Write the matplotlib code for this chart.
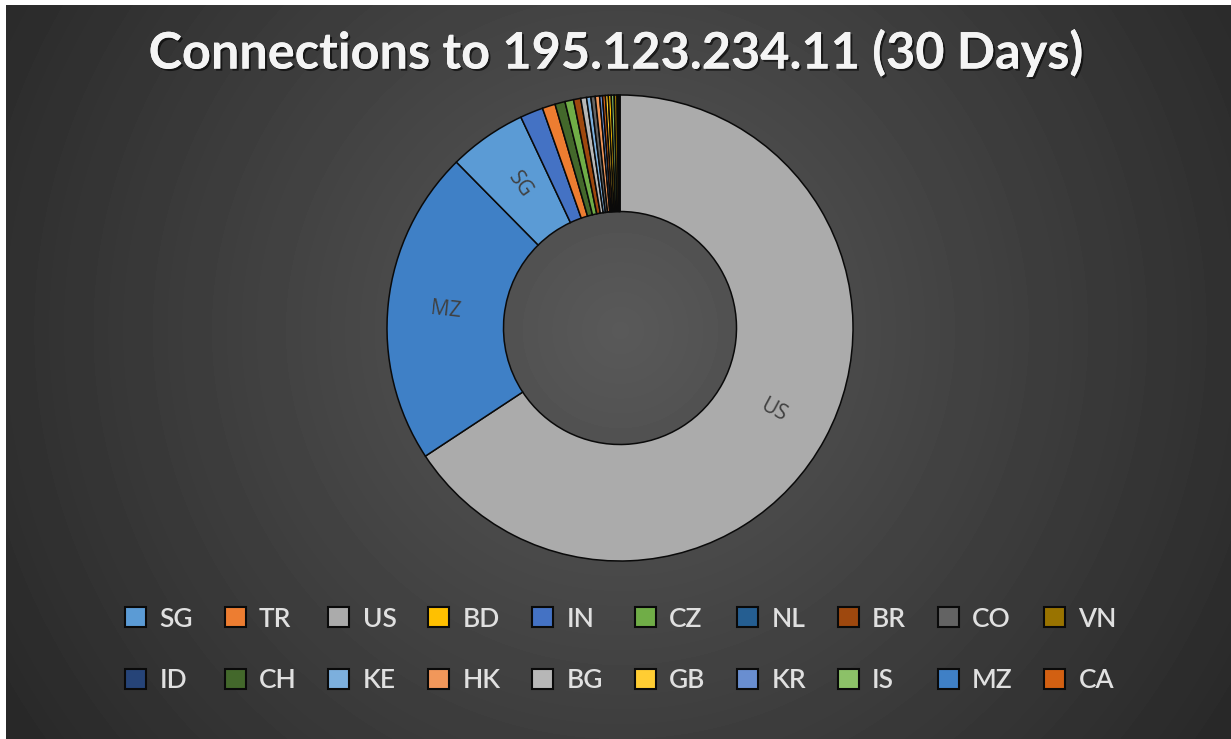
import numpy as np
import matplotlib
matplotlib.use('Agg')
import matplotlib.pyplot as plt
from matplotlib.patches import Patch
import matplotlib.patheffects as pe

# slices in the order they are drawn (clockwise from 12 o'clock)
slice_countries = ['US', 'MZ', 'SG', 'IN', 'TR', 'CH', 'CZ', 'BR', 'BG', 'KE',
                   'CO', 'HK', 'KR', 'CA', 'GB', 'BD', 'IS', 'VN', 'NL', 'ID']
slice_counts = [658, 219, 54, 16, 9, 7, 6, 5, 4, 3,
                3, 3, 2, 2, 2, 2, 2, 2, 1, 1]
labelled = ['US', 'MZ', 'SG']

# legend order as shown under the chart (row by row)
legend_countries = ['SG', 'TR', 'US', 'BD', 'IN', 'CZ', 'NL', 'BR', 'CO', 'VN',
                    'ID', 'CH', 'KE', 'HK', 'BG', 'GB', 'KR', 'IS', 'MZ', 'CA']

colors = {
    'SG': '#5B9BD5', 'TR': '#ED7D31', 'US': '#ABABAB', 'BD': '#FFC000',
    'IN': '#4472C4', 'CZ': '#70AD47', 'NL': '#255E91', 'BR': '#9E480E',
    'CO': '#636363', 'VN': '#997300', 'ID': '#264478', 'CH': '#43682B',
    'KE': '#7CAFDD', 'HK': '#F1975A', 'BG': '#B7B7B7', 'GB': '#FFCD33',
    'KR': '#698ED0', 'IS': '#8CC168', 'MZ': '#3F80C6', 'CA': '#D26012',
}

title = 'Connections to 195.123.234.11 (30 Days)'

W, H = 1231, 739
fig = plt.figure(figsize=(W / 100, H / 100), dpi=100)
fig.patch.set_facecolor('white')

# dark radial gradient background
bg = fig.add_axes([6 / W, 0, (W - 6) / W, (H - 5) / H])
yy, xx = np.mgrid[5:H, 6:W]
d = np.hypot(xx - 620, yy - 330) / 720
grad = 0.35 - 0.19 * np.clip(d, 0, 1)
bg.imshow(grad, cmap='gray', vmin=0, vmax=1, aspect='auto', interpolation='bilinear')
bg.axis('off')

# donut
ax = fig.add_axes([387 / W, 178 / H, 466 / W, 466 / H])
pie_labels = [c if c in labelled else '' for c in slice_countries]
wedges, texts = ax.pie(slice_counts, labels=pie_labels,
                       colors=[colors[c] for c in slice_countries],
                       startangle=90, counterclock=False, radius=1,
                       labeldistance=0.75, rotatelabels=True,
                       wedgeprops=dict(width=0.5, edgecolor='#0a0a0a', linewidth=1.1),
                       textprops=dict(color='#404040', fontsize=15, family='Open Sans'))
for t in texts:
    t.set_ha('center')
    t.set_va('center')
ax.set_xlim(-1, 1)
ax.set_ylim(-1, 1)
ax.axis('off')

fig.text(0.5, 1 - 53 / H, title, ha='center', va='center', fontsize=36.3,
         fontweight='bold', color='#f4f4f4', family='Lato',
         path_effects=[pe.withSimplePatchShadow(offset=(1.5, -1.5), shadow_rgbFace='black', alpha=0.6),
                       pe.Normal()])

# matplotlib fills legend columns first, so interleave the two rows
ncol = 10
order = [r * ncol + c for c in range(ncol) for r in range(2)]
names = [legend_countries[i] for i in order]
handles = [Patch(facecolor=colors[c], edgecolor='#0a0a0a', linewidth=1.5) for c in names]
leg = fig.legend(handles, names, ncol=ncol, loc='center',
                 bbox_to_anchor=(621 / W, 1 - 650 / H), frameon=False,
                 prop=dict(family='Lato', size=19, weight='semibold'), labelcolor='#e0e0e0',
                 handlelength=0.8, handleheight=0.8, handletextpad=0.5,
                 columnspacing=1.2, labelspacing=1.4)

fig.savefig('out.png', dpi=100, facecolor=fig.get_facecolor())
